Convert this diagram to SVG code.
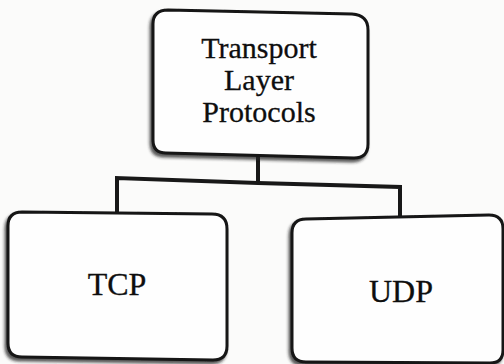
<svg xmlns="http://www.w3.org/2000/svg" width="504" height="364" viewBox="0 0 504 364">
  <defs>
    <filter id="shade" x="-10%" y="-10%" width="120%" height="125%">
      <feDropShadow dx="-2" dy="3" stdDeviation="1.8" flood-color="#222" flood-opacity="0.75"/>
    </filter>
    <style>
      .box { fill: #fefefe; stroke: #141414; stroke-width: 3; stroke-linejoin: round; filter: url(#shade); }
      .wire { fill: none; stroke: #181818; stroke-width: 4; stroke-linejoin: miter; }
      .label { font-family: "Liberation Serif", "Times New Roman", serif; fill: #0e0e0e; stroke: #0e0e0e; stroke-width: 0.3; text-anchor: middle; }
    </style>
  </defs>
  <rect width="504" height="364" fill="#fbfbfa"/>

  <g id="connectors">
    <path class="wire" d="M258 156 L258 184"/>
    <path class="wire" d="M117 212 L117 178 L258 183 L400 187 L400 218"/>
  </g>

  <g id="transport-layer-protocols">
    <path class="box" d="M168 10 L352 14 Q368 15 368 30 L368 144 Q368 158 354 158 L166 153 Q153 153 153 140 L153 24 Q153 10 168 10 Z"/>
    <text class="label" font-size="30" x="259" y="58">Transport</text>
    <text class="label" font-size="30" x="259" y="90">Layer</text>
    <text class="label" font-size="30" x="259" y="122">Protocols</text>
  </g>

  <g id="tcp">
    <path class="box" d="M22 212 L212 214 Q227 214 227 229 L227 346 Q227 360 213 360 L22 357 Q8 357 8 343 L8 226 Q8 212 22 212 Z"/>
    <text class="label" font-size="32" x="117" y="295">TCP</text>
  </g>

  <g id="udp">
    <path class="box" d="M306 219 L489 215 Q503 215 503 229 L503 350 Q503 363 490 363 L306 362 Q292 362 292 348 L292 233 Q292 219 306 219 Z"/>
    <text class="label" font-size="32" x="401" y="302">UDP</text>
  </g>
</svg>
